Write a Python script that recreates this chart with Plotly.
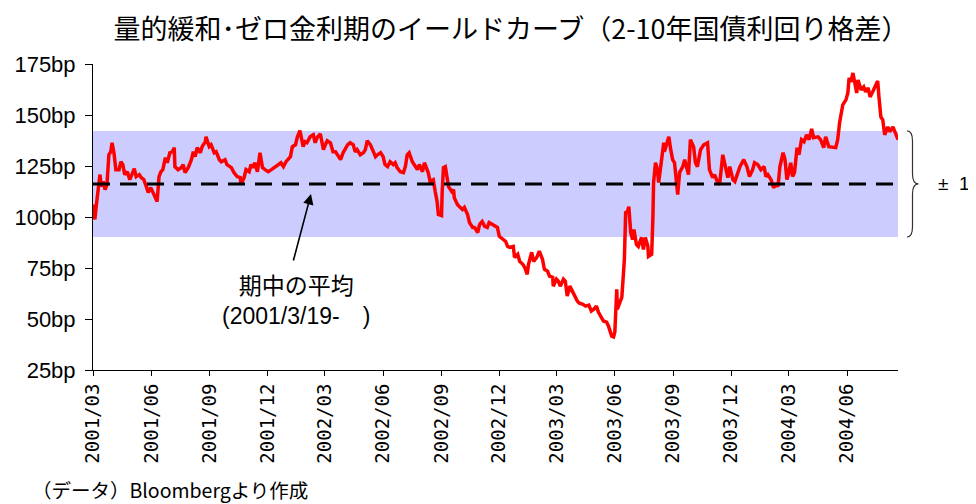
import pandas as pd
import plotly.graph_objects as go

# ---------------- data ----------------
start_date = "2001-03-19"

days_from_start = [
    0, 3, 5, 8, 11, 13, 16, 19, 22, 25, 28, 30, 33, 36, 41, 44, 47, 50, 54, 58,
    62, 65, 68, 73, 76, 80, 84, 87, 91, 95, 98, 101, 104, 107, 110, 114, 117, 121, 125, 128,
    129, 134, 139, 142, 145, 150, 155, 158, 161, 164, 169, 172, 177, 178, 183, 186, 191, 194, 199, 202,
    208, 211, 218, 222, 227, 232, 233, 238, 241, 246, 249, 252, 255, 259, 263, 267, 271, 276, 281, 287,
    292, 296, 300, 304, 311, 314, 319, 322,
    326, 331, 334, 337, 342, 347, 350, 353, 358, 363, 366, 369, 374, 378, 382, 385, 390, 394, 397, 401,
    405, 410, 413, 416, 421, 426, 429, 432, 437, 442, 445, 448, 453, 457, 460, 464, 468, 473, 476, 479,
    484, 489, 492, 495, 498, 503, 506, 511, 514, 519, 522, 525, 528, 531, 536, 539, 542, 544, 549, 550,
    552, 555, 558, 560, 565, 568, 569, 574, 577, 582, 585, 590, 593, 598, 601, 606, 609, 613, 617, 621,
    624, 629, 632, 637, 640,
    645, 650, 653, 656, 662, 664, 669, 672, 677, 680, 684, 686, 691, 694, 699, 703, 708, 711, 716, 719,
    724, 725, 730, 733, 736, 741, 744, 747, 751, 755, 759, 763, 766, 771, 776, 781, 785, 789, 793, 796,
    801, 804, 809, 812, 817, 820, 822, 825, 826, 830, 833, 836, 837, 839, 842, 844, 847, 850, 852, 856,
    859, 864, 867, 870, 874, 875, 880, 882, 883, 886, 889, 891, 894, 899, 900, 904, 907, 910, 913, 916,
    921, 924, 929, 932, 935, 938, 941, 946, 949, 952, 957, 962, 968, 971, 976, 979, 984, 987, 992, 995,
    1000, 1003, 1008, 1011, 1016, 1019, 1025, 1030, 1034, 1039, 1042, 1047, 1052, 1057, 1060, 1063, 1068, 1072, 1076, 1079,
    1082, 1087, 1090, 1093, 1096, 1099, 1102, 1105, 1109, 1112, 1116, 1120, 1124, 1128, 1132, 1135, 1142, 1146, 1151, 1154,
    1159, 1165, 1170, 1173, 1176, 1181, 1186, 1189, 1191, 1194, 1197, 1200, 1203, 1205, 1210, 1214, 1217, 1221, 1224, 1228,
    1232, 1236, 1238, 1241, 1244, 1247, 1252, 1255, 1260, 1263, 1268,
]

spread_bp = [
    106.1, 98.8, 105.1, 112.0, 120.8, 114.9, 117.4, 113.4, 115.9, 130.5, 132.0, 136.4, 131.5, 123.2, 123.2, 127.1, 125.7, 120.8, 122.2, 118.3,
    121.8, 123.7, 119.8, 120.8, 119.3, 118.3, 114.9, 112.0, 114.4, 112.0, 110.0, 107.6, 119.8, 122.2, 123.2, 129.1, 126.6, 131.5, 132.0, 134.0,
    124.7, 123.2, 124.2, 125.7, 121.8, 124.2, 128.1, 132.0, 129.6, 134.0, 131.5, 134.5, 136.9, 139.3, 134.5, 135.4, 131.5, 132.0, 128.1, 127.1,
    128.1, 125.7, 124.2, 121.8, 119.8, 119.3, 115.9, 119.3, 123.2, 122.2, 125.7, 124.2, 126.6, 122.2, 131.5, 124.2, 123.2, 122.2, 123.2, 124.7,
    125.7, 126.6, 124.7, 127.1, 129.6, 134.5, 135.4, 139.3,
    142.3, 134.5, 136.9, 136.4, 139.3, 140.3, 136.4, 138.9, 140.8, 133.0, 135.4, 137.4, 136.4, 132.0, 132.0, 130.5, 128.1, 131.5, 133.0, 135.4,
    136.4, 135.4, 132.0, 133.0, 130.5, 131.5, 133.0, 137.4, 135.4, 132.0, 129.6, 130.5, 131.5, 129.6, 125.7, 124.7, 127.1, 125.7, 126.6, 124.2,
    122.2, 121.8, 124.7, 130.5, 131.5, 127.1, 125.7, 123.2, 125.7, 122.2, 126.6, 124.2, 121.8, 117.4, 118.3, 112.5, 107.6, 101.2, 100.7, 112.0,
    124.2, 124.7, 119.8, 114.9, 112.5, 113.4, 109.5, 106.1, 105.1, 103.7, 104.7, 101.2, 97.3, 94.9, 94.9, 92.4, 96.4, 97.8, 95.4, 94.9,
    97.3, 96.4, 95.4, 94.9, 90.5,
    89.0, 88.0, 85.6, 85.1, 85.6, 80.2, 81.7, 78.3, 76.8, 75.3, 71.9, 76.8, 82.7, 78.3, 80.2, 83.2, 79.3, 74.4, 73.4, 71.0,
    70.5, 66.1, 69.5, 68.5, 66.1, 69.5, 68.5, 61.2, 66.1, 63.1, 61.2, 58.7, 57.8, 57.3, 56.3, 56.8, 53.9, 54.8, 56.3, 53.4,
    50.9, 49.0, 48.5, 46.5, 41.6, 41.2, 43.6, 64.6, 54.8, 58.2, 60.7, 74.4, 79.3, 102.2, 102.7, 105.1, 92.4, 89.0, 93.9, 86.6,
    85.6, 90.0, 84.1, 90.0, 85.6, 80.7, 81.7, 100.3, 116.9, 126.6, 123.2, 116.9, 125.7, 136.4, 132.0, 136.4, 139.3, 133.0, 128.1, 126.6,
    111.0, 121.8, 124.7, 128.1, 124.7, 120.8, 137.9, 134.5, 126.6, 124.7, 133.0, 135.4, 136.4, 123.2, 119.3, 120.8, 116.9, 115.9, 130.5, 126.6,
    119.3, 124.7, 118.3, 117.4, 121.8, 124.7, 128.1, 124.7, 119.8, 123.2, 126.6, 125.7, 123.2, 124.7, 119.8, 120.8, 118.3, 114.4, 115.9, 114.9,
    124.7, 131.5, 128.1, 118.3, 121.8, 126.6, 119.8, 121.8, 134.0, 130.5, 137.9, 136.9, 140.3, 137.9, 143.2, 138.9, 139.3, 137.9, 134.0, 139.3,
    134.5, 134.0, 134.0, 137.9, 146.2, 155.0, 157.4, 160.8, 168.2, 166.2, 170.6, 165.7, 160.8, 167.2, 162.3, 163.8, 161.3, 163.3, 158.9, 161.3,
    163.8, 166.7, 158.9, 149.1, 147.6, 140.3, 144.2, 141.8, 144.2, 141.8, 137.9,
]

mean_bp = 116.2     # 期中の平均
sd_bp = 26.0        # ±1σ band half-width

tick_dates = ["2001-03-19", "2001-06-19", "2001-09-19", "2001-12-19", "2002-03-19", "2002-06-19",
              "2002-09-19", "2002-12-19", "2003-03-19", "2003-06-19", "2003-09-19", "2003-12-19",
              "2004-03-19", "2004-06-19"]
tick_labels = ["2001/03", "2001/06", "2001/09", "2001/12", "2002/03", "2002/06", "2002/09",
               "2002/12", "2003/03", "2003/06", "2003/09", "2003/12", "2004/03", "2004/06"]

y_ticks = [25, 50, 75, 100, 125, 150, 175]

assert len(days_from_start) == len(spread_bp), (len(days_from_start), len(spread_bp))

dates = pd.Timestamp(start_date) + pd.to_timedelta(days_from_start, unit="D")

# ---------------- layout geometry (page pixels) ----------------
PAGE_W, PAGE_H = 976, 504
OFF = 8                      # default body margin of the html page
W, H = PAGE_W - OFF, PAGE_H - OFF
PL, PR, PT, PB = 93, 898, 64, 370   # plot area in page pixels
ML, MT = PL - OFF, PT - OFF
MR = W - (PL - OFF) - (PR - PL)
MB = H - (PB - OFF)
PW, PH = PR - PL, PB - PT


def px_x(p):
    return (p - PL) / PW


def px_y(p):
    return (PB - p) / PH


JP = "Noto Sans CJK JP"
LAT = "Liberation Sans, Arial, Noto Sans CJK JP"

fig = go.Figure()
fig.add_trace(go.Scatter(
    x=dates, y=spread_bp, mode="lines",
    line=dict(color="#FF0000", width=3.5),
    hoverinfo="x+y", showlegend=False,
))

band_lo, band_hi = mean_bp - sd_bp, mean_bp + sd_bp

shapes = [
    dict(type="rect", xref="paper", yref="y", x0=0, x1=1, y0=band_lo, y1=band_hi,
         fillcolor="#CCCCFF", line=dict(width=0), layer="below"),
    dict(type="line", xref="paper", yref="y", x0=0, x1=1, y0=mean_bp, y1=mean_bp,
         line=dict(color="black", width=3, dash="17px,10px"), layer="above"),
]

# right-hand brace spanning the ±1σ band
bx0, bx1, bx2 = px_x(907), px_x(912.5), px_x(918.5)
r = 5
brace = (f"M {bx0},{band_hi} Q {bx1},{band_hi} {bx1},{band_hi - r} "
         f"L {bx1},{mean_bp + r} Q {bx1},{mean_bp} {bx2},{mean_bp} "
         f"Q {bx1},{mean_bp} {bx1},{mean_bp - r} "
         f"L {bx1},{band_lo + r} Q {bx1},{band_lo} {bx0},{band_lo}")
shapes.append(dict(type="path", xref="paper", yref="y", path=brace,
                   line=dict(color="#333333", width=1.2)))

annotations = [
    # arrow to the mean line
    dict(xref="paper", yref="paper", x=px_x(311), y=px_y(194), text="",
         showarrow=True, arrowhead=2, arrowsize=1.3, arrowwidth=1.6, arrowcolor="black",
         axref="pixel", ayref="pixel", ax=-18, ay=68),
    dict(xref="paper", yref="paper", x=px_x(296), y=px_y(301), xanchor="center", yanchor="middle",
         text="期中の平均<br>(2001/3/19-\u3000)", showarrow=False, align="center",
         font=dict(family=LAT, size=23, color="black")),
    dict(xref="paper", yref="y", x=px_x(936), y=mean_bp, xanchor="left", yanchor="middle",
         text="±\u00a0\u00a01", showarrow=False,
         font=dict(family=LAT, size=19, color="black")),
    dict(xref="paper", yref="paper", x=px_x(30), y=px_y(489), xanchor="left", yanchor="middle",
         text="（データ）Bloombergより作成", showarrow=False,
         font=dict(family=JP, size=19.5, color="black")),
]

fig.update_layout(
    width=W, height=H,
    margin=dict(l=ML, r=MR, t=MT, b=MB, pad=0, autoexpand=False),
    paper_bgcolor="white", plot_bgcolor="white",
    title=dict(text="量的緩和･ゼロ金利期のイールドカーブ（2-10年国債利回り格差）",
               x=(511 - OFF) / W, xref="container", xanchor="center",
               y=1 - (30 - OFF) / H, yref="container", yanchor="middle",
               font=dict(family=JP, size=27, color="black")),
    shapes=shapes,
    annotations=annotations,
    xaxis=dict(
        type="date",
        range=[dates[0], dates[-1]],
        tickmode="array", tickvals=tick_dates, ticktext=tick_labels,
        tickangle=-90,
        ticks="outside", ticklen=5, tickcolor="black", tickwidth=1,
        showline=True, linecolor="black", linewidth=1,
        showgrid=False, zeroline=False,
        tickfont=dict(family="DejaVu Sans Mono", size=19, color="black"),
    ),
    yaxis=dict(
        range=[25, 175],
        tickmode="array", tickvals=y_ticks, ticktext=[f"{v}bp" for v in y_ticks],
        ticks="outside", ticklen=7, tickcolor="black", tickwidth=1,
        ticklabelstandoff=5,
        showline=True, linecolor="black", linewidth=1,
        showgrid=False, zeroline=False,
        tickfont=dict(family="Liberation Sans, Arial", size=22, color="black"),
    ),
)

fig.write_html("out.html")
